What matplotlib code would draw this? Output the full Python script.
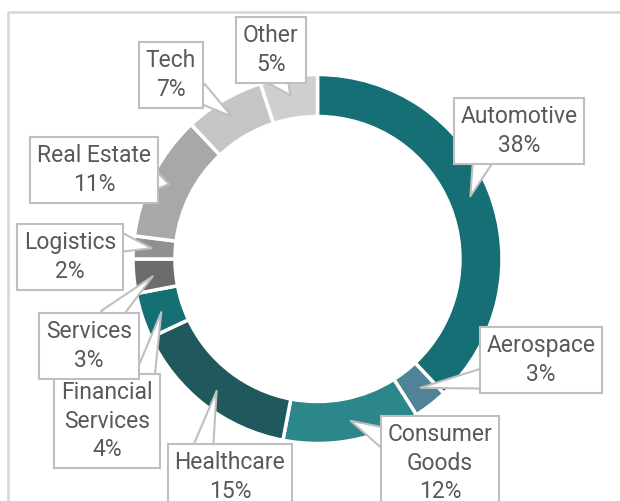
import numpy as np
import matplotlib
matplotlib.use("Agg")
from matplotlib import pyplot as plt

sectors = ["Automotive", "Aerospace", "Consumer\nGoods", "Healthcare",
           "Financial\nServices", "Services", "Logistics", "Real Estate",
           "Tech", "Other"]
shares = [38, 3, 12, 15, 4, 3, 2, 11, 7, 5]
colors = ["#166f74", "#4f8398", "#2c878b", "#1f585d", "#157074",
          "#6c6c6c", "#909090", "#a8a8a8", "#c6c6c6", "#cfcfcf"]

# label box centres and where the pointer leaves the box (pixel coords, y down)
label_pos = [(519, 131), (541, 360), (440, 463), (230, 477), (107, 421),
             (89, 346), (70, 257), (94, 170), (171, 75), (271, 50)]
relpos = [(0.2, 0.0), (0.0, 0.15), (0.0, 0.8), (0.25, 1.0), (0.9, 1.0),
          (0.7, 1.0), (1.0, 0.8), (1.0, 0.3), (1.0, 0.2), (0.6, 0.0)]

W, H = 620, 501
cx, cy, r_out, ring = 317.5, 259, 184.5, 42

plt.rcParams['font.family'] = ['Roboto', 'DejaVu Sans']

fig = plt.figure(figsize=(W / 100, H / 100), dpi=100)
ax = fig.add_axes([0, 0, 1, 1])

# frame around chart area
ax.plot([8, 8, W], [0, H - 12, H - 12], color='#d9d9d9', lw=2, zorder=0)

wedges, _ = ax.pie(shares, colors=colors, startangle=90, counterclock=False,
                   center=(cx, H - cy), radius=r_out, frame=True,
                   wedgeprops=dict(width=ring, edgecolor='white', linewidth=2.5))
ax.set_xlim(0, W)
ax.set_ylim(0, H)
ax.set_aspect('equal')
ax.axis('off')

order = [0, 1, 2, 3, 4, 6, 5, 7, 8, 9]  # Services box sits above Financial Services
for k, i in enumerate(order):
    w = wedges[i]
    ang = np.deg2rad((w.theta1 + w.theta2) / 2)
    rm = r_out - ring / 2
    tip = (cx + rm * np.cos(ang), H - cy + rm * np.sin(ang))
    lx, ly = label_pos[i]
    ax.annotate("%s\n%d%%" % (sectors[i], shares[i]), xy=tip,
                xytext=(lx, H - ly), textcoords='data',
                ha='center', va='center', fontsize=16.5, color='#595959',
                linespacing=1.3, zorder=5 + k,
                bbox=dict(boxstyle='square,pad=0.3', fc='white',
                          ec='#bfbfbf', lw=1.5),
                arrowprops=dict(arrowstyle='wedge,tail_width=0.9,shrink_factor=0.5',
                                fc='white', ec='#bfbfbf', lw=1.5,
                                patchA=None, relpos=relpos[i]))

fig.savefig('out.png', dpi=100)
